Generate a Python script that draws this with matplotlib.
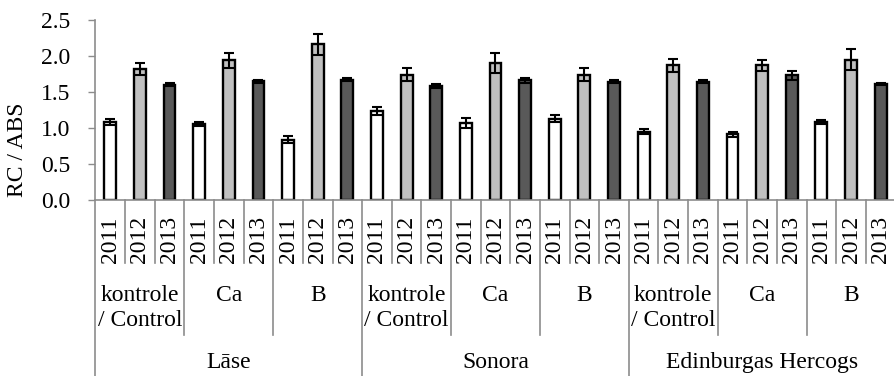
import matplotlib
matplotlib.use('Agg')
import matplotlib.pyplot as plt
from matplotlib.lines import Line2D

cultivars = ['Lāse', 'Sonora', 'Edinburgas Hercogs']
treatments = ['kontrole\n/ Control', 'Ca', 'B']
years = ['2011', '2012', '2013']

# values in order: cultivar -> treatment (kontrole, Ca, B)
v2011 = [1.08, 1.06, 0.84, 1.23, 1.07, 1.13, 0.95, 0.91, 1.08]
v2012 = [1.82, 1.94, 2.16, 1.74, 1.90, 1.74, 1.87, 1.87, 1.95]
v2013 = [1.60, 1.65, 1.67, 1.58, 1.66, 1.64, 1.64, 1.73, 1.61]
e2011 = [0.04, 0.03, 0.055, 0.055, 0.07, 0.045, 0.04, 0.03, 0.03]
e2012 = [0.085, 0.10, 0.145, 0.09, 0.135, 0.09, 0.09, 0.08, 0.145]
e2013 = [0.02, 0.02, 0.02, 0.025, 0.03, 0.02, 0.02, 0.06, 0.01]

values = [v2011, v2012, v2013]
errors = [e2011, e2012, e2013]
colors = ['#ffffff', '#c0c0c0', '#595959']

plt.rcParams['font.family'] = ['Liberation Serif', 'DejaVu Serif']
FS = 17
GRAY = '#8c8c8c'

W, H = 895, 376
fig = plt.figure(figsize=(W / 100, H / 100), dpi=100)
ax_left, ax_right, ax_top, ax_bot = 95.5, 895.5, 20, 200
ax = fig.add_axes([ax_left / W, 1 - ax_bot / H, (ax_right - ax_left) / W, (ax_bot - ax_top) / H])

n_groups = len(v2011)
for yi in range(3):
    xs = [g * 3 + yi for g in range(n_groups)]
    ax.bar(xs, values[yi], width=0.4, color=colors[yi], edgecolor='black', linewidth=1.7,
           yerr=errors[yi], error_kw=dict(ecolor='black', elinewidth=1.5, capsize=3.6, capthick=1.5),
           zorder=2)

ax.set_xlim(-0.5, n_groups * 3 - 0.5)
ax.set_ylim(0, 2.5)
ax.set_yticks([0, 0.5, 1.0, 1.5, 2.0, 2.5])
ax.set_yticklabels(['0.0', '0.5', '1.0', '1.5', '2.0', '2.5'], fontsize=FS)
ax.tick_params(axis='y', length=5, width=1, color=GRAY, pad=13)
ax.set_xticks([])
for s in ['top', 'right']:
    ax.spines[s].set_visible(False)
for s in ['left', 'bottom']:
    ax.spines[s].set_color(GRAY)
    ax.spines[s].set_linewidth(1.2)

def yf(px):
    return -(px - ax_bot) / (ax_bot - ax_top)

tr = ax.get_xaxis_transform()
n = n_groups * 3
for k in range(n + 1):
    xb = k - 0.5
    if k % 9 == 0:
        bot = 380
    elif k % 3 == 0:
        bot = 335
    else:
        bot = 263
    ax.add_line(Line2D([xb, xb], [0, yf(bot)], transform=tr, clip_on=False, color=GRAY, lw=1.2))

for k in range(n):
    ax.text(k, yf(263), years[k % 3], rotation=90, ha='center', va='bottom',
            fontsize=FS, transform=tr, clip_on=False)

for g in range(n_groups):
    ax.text(g * 3 + 1, yf(285), treatments[g % 3], ha='center', va='top', fontsize=FS,
            linespacing=1.22, transform=tr, clip_on=False)

for c, name in enumerate(cultivars):
    ax.text(c * 9 + 4, yf(352), name, ha='center', va='top', fontsize=FS,
            transform=tr, clip_on=False)

fig.text(18 / W, 1 - 150 / H, 'RC / ABS', rotation=90, ha='center', va='center', fontsize=FS)

fig.savefig('out.png', dpi=100)
